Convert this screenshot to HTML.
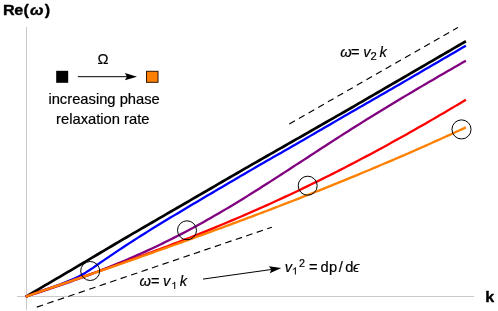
<!DOCTYPE html>
<html><head><meta charset="utf-8"><title>Dispersion</title>
<style>
html,body{margin:0;padding:0;background:#fff;}
svg{display:block;will-change:transform;font-family:"Liberation Sans",sans-serif;}
text{fill:#000;stroke:#000;stroke-width:0.2px;stroke-linejoin:round;}
text.b{stroke-width:0.38px;}
</style></head>
<body>
<svg width="498" height="311" viewBox="0 0 498 311">
<rect width="498" height="311" fill="#ffffff"/>
<!-- axes -->
<line x1="26.5" y1="27" x2="26.5" y2="310.2" stroke="#c9c9c9" stroke-width="1"/>
<line x1="17.1" y1="296.5" x2="474.2" y2="296.5" stroke="#c9c9c9" stroke-width="1"/>
<!-- dashed guides -->
<line x1="36.8" y1="307.1" x2="271.9" y2="227.2" stroke="#000" stroke-width="1.15" stroke-dasharray="6.6 4.46"/>
<line x1="289.3" y1="123.9" x2="457.8" y2="27.6" stroke="#000" stroke-width="1.15" stroke-dasharray="6.5 4.6"/>
<!-- curves -->
<path d="M25.70,296.77 L26.50,296.30 L30.19,294.13 L33.88,291.97 L37.58,289.80 L41.27,287.63 L44.96,285.46 L48.65,283.30 L52.35,281.13 L56.04,278.96 L59.73,276.80 L63.42,274.63 L67.12,272.46 L70.81,270.29 L74.50,268.10 L78.19,265.91 L81.89,263.72 L85.58,261.54 L89.27,259.35 L92.96,257.16 L96.66,254.97 L100.35,252.78 L104.04,250.59 L107.73,248.40 L111.43,246.22 L115.12,244.03 L118.81,241.84 L122.50,239.65 L126.20,237.48 L129.89,235.33 L133.58,233.19 L137.27,231.05 L140.97,228.91 L144.66,226.77 L148.35,224.63 L152.04,222.49 L155.74,220.34 L159.43,218.20 L163.12,216.06 L166.81,213.92 L170.51,211.78 L174.20,209.64 L177.89,207.49 L181.58,205.35 L185.27,203.21 L188.97,201.07 L192.66,198.93 L196.35,196.79 L200.04,194.64 L203.74,192.50 L207.43,190.36 L211.12,188.22 L214.81,186.08 L218.51,183.94 L222.20,181.79 L225.89,179.65 L229.58,177.51 L233.28,175.37 L236.97,173.23 L240.66,171.09 L244.35,168.94 L248.05,166.80 L251.74,164.68 L255.43,162.57 L259.12,160.47 L262.82,158.36 L266.51,156.26 L270.20,154.16 L273.89,152.05 L277.59,149.95 L281.28,147.84 L284.97,145.74 L288.66,143.63 L292.36,141.53 L296.05,139.42 L299.74,137.32 L303.43,135.21 L307.13,133.09 L310.82,130.98 L314.51,128.87 L318.20,126.76 L321.89,124.65 L325.59,122.53 L329.28,120.42 L332.97,118.31 L336.66,116.20 L340.36,114.09 L344.05,111.97 L347.74,109.86 L351.43,107.74 L355.13,105.59 L358.82,103.45 L362.51,101.30 L366.20,99.16 L369.90,97.01 L373.59,94.87 L377.28,92.72 L380.97,90.58 L384.67,88.43 L388.36,86.29 L392.05,84.14 L395.74,82.00 L399.44,79.85 L403.13,77.71 L406.82,75.56 L410.51,73.42 L414.21,71.28 L417.90,69.13 L421.59,66.99 L425.28,64.84 L428.98,62.70 L432.67,60.55 L436.36,58.41 L440.05,56.26 L443.75,54.12 L447.44,51.97 L451.13,49.83 L454.82,47.68 L458.52,45.54 L462.21,43.39 L465.90,41.25" fill="none" stroke="#000000" stroke-width="2.7" stroke-linecap="butt" stroke-linejoin="round"/>
<path d="M25.70,296.58 L26.50,296.30 L30.19,295.03 L33.88,293.76 L37.58,292.48 L41.27,291.20 L44.96,289.90 L48.65,288.59 L52.35,287.26 L56.04,285.91 L59.73,284.53 L63.42,283.11 L67.12,281.63 L70.81,280.09 L74.50,278.47 L78.19,276.73 L81.89,274.80 L85.58,272.65 L89.27,270.33 L92.96,267.86 L96.66,265.28 L100.35,262.64 L104.04,260.13 L107.73,257.62 L111.43,255.11 L115.12,252.62 L118.81,250.15 L122.50,247.70 L126.20,245.28 L129.89,242.88 L133.58,240.49 L137.27,238.13 L140.97,235.78 L144.66,233.45 L148.35,231.13 L152.04,228.84 L155.74,226.57 L159.43,224.31 L163.12,222.06 L166.81,219.82 L170.51,217.59 L174.20,215.37 L177.89,213.15 L181.58,210.94 L185.27,208.73 L188.97,206.53 L192.66,204.34 L196.35,202.15 L200.04,199.96 L203.74,197.78 L207.43,195.59 L211.12,193.41 L214.81,191.23 L218.51,189.06 L222.20,186.89 L225.89,184.72 L229.58,182.55 L233.28,180.39 L236.97,178.23 L240.66,176.07 L244.35,173.91 L248.05,171.76 L251.74,169.62 L255.43,167.49 L259.12,165.36 L262.82,163.24 L266.51,161.12 L270.20,158.99 L273.89,156.87 L277.59,154.75 L281.28,152.64 L284.97,150.52 L288.66,148.40 L292.36,146.29 L296.05,144.18 L299.74,142.07 L303.43,139.92 L307.13,137.77 L310.82,135.63 L314.51,133.48 L318.20,131.34 L321.89,129.19 L325.59,127.05 L329.28,124.91 L332.97,122.77 L336.66,120.63 L340.36,118.49 L344.05,116.35 L347.74,114.21 L351.43,112.08 L355.13,109.95 L358.82,107.82 L362.51,105.69 L366.20,103.56 L369.90,101.43 L373.59,99.30 L377.28,97.18 L380.97,95.05 L384.67,92.92 L388.36,90.80 L392.05,88.67 L395.74,86.55 L399.44,84.43 L403.13,82.28 L406.82,80.12 L410.51,77.97 L414.21,75.81 L417.90,73.66 L421.59,71.50 L425.28,69.35 L428.98,67.20 L432.67,65.05 L436.36,62.89 L440.05,60.74 L443.75,58.59 L447.44,56.44 L451.13,54.29 L454.82,52.14 L458.52,49.99 L462.21,47.84 L465.90,45.69" fill="none" stroke="#0000ff" stroke-width="2.3" stroke-linecap="butt" stroke-linejoin="round"/>
<path d="M25.70,296.55 L26.50,296.30 L30.19,295.15 L33.88,293.99 L37.58,292.81 L41.27,291.63 L44.96,290.43 L48.65,289.21 L52.35,287.98 L56.04,286.74 L59.73,285.48 L63.42,284.21 L67.12,282.92 L70.81,281.61 L74.50,280.29 L78.19,278.96 L81.89,277.60 L85.58,276.24 L89.27,274.85 L92.96,273.45 L96.66,272.03 L100.35,270.59 L104.04,269.13 L107.73,267.65 L111.43,266.16 L115.12,264.65 L118.81,263.12 L122.50,261.56 L126.20,259.99 L129.89,258.40 L133.58,256.79 L137.27,255.16 L140.97,253.51 L144.66,251.83 L148.35,250.13 L152.04,248.42 L155.74,246.68 L159.43,244.92 L163.12,243.13 L166.81,241.32 L170.51,239.49 L174.20,237.64 L177.89,235.76 L181.58,233.86 L185.27,231.93 L188.97,229.98 L192.66,228.00 L196.35,226.00 L200.04,223.98 L203.74,221.93 L207.43,219.85 L211.12,217.75 L214.81,215.62 L218.51,213.48 L222.20,211.31 L225.89,209.12 L229.58,206.92 L233.28,204.69 L236.97,202.45 L240.66,200.19 L244.35,197.91 L248.05,195.62 L251.74,193.32 L255.43,191.00 L259.12,188.67 L262.82,186.33 L266.51,183.98 L270.20,181.62 L273.89,179.25 L277.59,176.87 L281.28,174.49 L284.97,172.10 L288.66,169.70 L292.36,167.30 L296.05,164.90 L299.74,162.50 L303.43,160.09 L307.13,157.68 L310.82,155.28 L314.51,152.87 L318.20,150.47 L321.89,148.07 L325.59,145.68 L329.28,143.28 L332.97,140.90 L336.66,138.52 L340.36,136.15 L344.05,133.79 L347.74,131.44 L351.43,129.09 L355.13,126.76 L358.82,124.44 L362.51,122.13 L366.20,119.83 L369.90,117.54 L373.59,115.26 L377.28,112.99 L380.97,110.72 L384.67,108.47 L388.36,106.22 L392.05,103.99 L395.74,101.76 L399.44,99.54 L403.13,97.33 L406.82,95.12 L410.51,92.93 L414.21,90.74 L417.90,88.55 L421.59,86.38 L425.28,84.21 L428.98,82.05 L432.67,79.89 L436.36,77.74 L440.05,75.59 L443.75,73.45 L447.44,71.32 L451.13,69.19 L454.82,67.06 L458.52,64.94 L462.21,62.83 L465.90,60.72" fill="none" stroke="#800080" stroke-width="2.3" stroke-linecap="butt" stroke-linejoin="round"/>
<path d="M25.70,296.58 L26.50,296.30 L30.19,295.02 L33.88,293.73 L37.58,292.45 L41.27,291.18 L44.96,289.90 L48.65,288.63 L52.35,287.35 L56.04,286.08 L59.73,284.80 L63.42,283.53 L67.12,282.25 L70.81,280.97 L74.50,279.70 L78.19,278.42 L81.89,277.14 L85.58,275.85 L89.27,274.57 L92.96,273.28 L96.66,271.99 L100.35,270.69 L104.04,269.39 L107.73,268.09 L111.43,266.78 L115.12,265.47 L118.81,264.15 L122.50,262.83 L126.20,261.51 L129.89,260.18 L133.58,258.84 L137.27,257.50 L140.97,256.15 L144.66,254.79 L148.35,253.43 L152.04,252.06 L155.74,250.68 L159.43,249.30 L163.12,247.91 L166.81,246.51 L170.51,245.11 L174.20,243.69 L177.89,242.27 L181.58,240.84 L185.27,239.40 L188.97,237.96 L192.66,236.50 L196.35,235.04 L200.04,233.56 L203.74,232.08 L207.43,230.59 L211.12,229.09 L214.81,227.57 L218.51,226.05 L222.20,224.52 L225.89,222.98 L229.58,221.43 L233.28,219.87 L236.97,218.30 L240.66,216.72 L244.35,215.12 L248.05,213.52 L251.74,211.91 L255.43,210.28 L259.12,208.65 L262.82,207.00 L266.51,205.34 L270.20,203.68 L273.89,202.00 L277.59,200.31 L281.28,198.61 L284.97,196.89 L288.66,195.17 L292.36,193.43 L296.05,191.69 L299.74,189.93 L303.43,188.16 L307.13,186.38 L310.82,184.59 L314.51,182.79 L318.20,180.97 L321.89,179.15 L325.59,177.31 L329.28,175.46 L332.97,173.60 L336.66,171.73 L340.36,169.85 L344.05,167.96 L347.74,166.06 L351.43,164.14 L355.13,162.21 L358.82,160.28 L362.51,158.33 L366.20,156.37 L369.90,154.40 L373.59,152.42 L377.28,150.43 L380.97,148.43 L384.67,146.42 L388.36,144.40 L392.05,142.36 L395.74,140.32 L399.44,138.27 L403.13,136.21 L406.82,134.14 L410.51,132.06 L414.21,129.96 L417.90,127.86 L421.59,125.75 L425.28,123.64 L428.98,121.51 L432.67,119.37 L436.36,117.23 L440.05,115.07 L443.75,112.91 L447.44,110.74 L451.13,108.56 L454.82,106.38 L458.52,104.19 L462.21,101.98 L465.90,99.78" fill="none" stroke="#ff0000" stroke-width="2.3" stroke-linecap="butt" stroke-linejoin="round"/>
<path d="M25.70,296.57 L26.50,296.30 L30.19,295.04 L33.88,293.78 L37.58,292.51 L41.27,291.25 L44.96,289.99 L48.65,288.73 L52.35,287.46 L56.04,286.20 L59.73,284.93 L63.42,283.66 L67.12,282.39 L70.81,281.13 L74.50,279.86 L78.19,278.59 L81.89,277.31 L85.58,276.04 L89.27,274.77 L92.96,273.49 L96.66,272.21 L100.35,270.93 L104.04,269.65 L107.73,268.37 L111.43,267.09 L115.12,265.81 L118.81,264.52 L122.50,263.23 L126.20,261.94 L129.89,260.65 L133.58,259.35 L137.27,258.06 L140.97,256.76 L144.66,255.46 L148.35,254.16 L152.04,252.85 L155.74,251.54 L159.43,250.23 L163.12,248.92 L166.81,247.61 L170.51,246.29 L174.20,244.97 L177.89,243.65 L181.58,242.32 L185.27,241.00 L188.97,239.67 L192.66,238.33 L196.35,236.99 L200.04,235.65 L203.74,234.31 L207.43,232.97 L211.12,231.62 L214.81,230.26 L218.51,228.91 L222.20,227.55 L225.89,226.19 L229.58,224.82 L233.28,223.45 L236.97,222.08 L240.66,220.70 L244.35,219.32 L248.05,217.94 L251.74,216.55 L255.43,215.16 L259.12,213.76 L262.82,212.36 L266.51,210.95 L270.20,209.55 L273.89,208.13 L277.59,206.72 L281.28,205.29 L284.97,203.87 L288.66,202.44 L292.36,201.00 L296.05,199.56 L299.74,198.12 L303.43,196.67 L307.13,195.22 L310.82,193.76 L314.51,192.30 L318.20,190.83 L321.89,189.36 L325.59,187.88 L329.28,186.40 L332.97,184.91 L336.66,183.41 L340.36,181.91 L344.05,180.41 L347.74,178.90 L351.43,177.39 L355.13,175.87 L358.82,174.34 L362.51,172.81 L366.20,171.27 L369.90,169.73 L373.59,168.18 L377.28,166.62 L380.97,165.06 L384.67,163.50 L388.36,161.92 L392.05,160.34 L395.74,158.76 L399.44,157.17 L403.13,155.57 L406.82,153.97 L410.51,152.36 L414.21,150.74 L417.90,149.12 L421.59,147.49 L425.28,145.85 L428.98,144.21 L432.67,142.56 L436.36,140.90 L440.05,139.24 L443.75,137.56 L447.44,135.89 L451.13,134.20 L454.82,132.51 L458.52,130.81 L462.21,129.11 L465.90,127.39" fill="none" stroke="#ff8000" stroke-width="2.3" stroke-linecap="butt" stroke-linejoin="round"/>
<!-- circles -->
<g fill="none" stroke="#000" stroke-width="1">
<circle cx="90.2" cy="271" r="9.5"/>
<circle cx="187" cy="230.3" r="9.5"/>
<circle cx="307.7" cy="185.7" r="9.5"/>
<circle cx="461.5" cy="129.4" r="9.55"/>
</g>
<!-- legend -->
<rect x="56.2" y="70.8" width="12" height="12" fill="#000"/>
<rect x="146.5" y="71.3" width="11.5" height="11" fill="#ff8000" stroke="#2b1500" stroke-width="1"/>
<line x1="77.9" y1="76.7" x2="128" y2="76.7" stroke="#000" stroke-width="1"/>
<path transform="translate(137,76.7)" d="M0,0 L-12.1,-3.6 L-10.1,0 L-12.1,3.6 Z" fill="#000"/>
<text transform="matrix(1 0 0 0.94 0 3.840)" x="97.6" y="64" font-size="14.75">Ω</text>
<text transform="matrix(1 0 0 0.94 0 6.240)" x="48.4" y="104" font-size="14.75">increasing phase</text>
<text transform="matrix(1 0 0 0.94 0 7.470)" x="56.1" y="124.5" font-size="14.75">relaxation rate</text>
<!-- arrow to v1^2 -->
<line x1="203" y1="279.1" x2="271.4" y2="269.5" stroke="#000" stroke-width="1"/>
<path transform="translate(281.3,268.1) rotate(-8)" d="M0,0 L-12.1,-3.6 L-10.1,0 L-12.1,3.6 Z" fill="#000"/>
<!-- labels -->
<g font-size="14.67">
<text transform="matrix(1 0 0 0.94 0 3.432)" x="340.2" y="57.2" font-style="italic">ω</text>
<text transform="matrix(1 0 0 0.94 0 3.432)" x="350.9" y="57.2">=</text>
<text transform="matrix(1 0 0 0.94 0 3.432)" x="363.3" y="57.2" font-style="italic">v</text>
<text transform="matrix(1 0 0 0.94 0 3.594)" x="370.6" y="59.9" font-size="11.3">2</text>
<text transform="matrix(1 0 0 0.94 0 3.432)" x="379.45" y="57.2" font-style="italic">k</text>

<text transform="matrix(1 0 0 0.94 0 17.160)" x="139.5" y="286" font-style="italic">ω</text>
<text transform="matrix(1 0 0 0.94 0 17.160)" x="150.9" y="286">=</text>
<text transform="matrix(1 0 0 0.94 0 17.160)" x="162.9" y="286" font-style="italic">v</text>
<path transform="translate(170.95,288.9) scale(0.0056,-0.0049)" d="M763 0H583V1147Q518 1085 412.5 1023T223 930V1104Q374 1175 487 1276T647 1472H763Z" fill="#000"/>
<text transform="matrix(1 0 0 0.94 0 17.160)" x="179.75" y="286" font-style="italic">k</text>

<text transform="matrix(1 0 0 0.94 0 16.302)" x="284.7" y="271.7" font-style="italic">v</text>
<path transform="translate(291.6,274.5) scale(0.0056,-0.0049)" d="M763 0H583V1147Q518 1085 412.5 1023T223 930V1104Q374 1175 487 1276T647 1472H763Z" fill="#000"/>
<text transform="matrix(1 0 0 0.94 0 16.020)" x="299" y="267" font-size="10.8">2</text>
<text transform="matrix(1 0 0 0.94 0 16.302)" x="308.9" y="271.7">=</text>
<text transform="matrix(1 0 0 0.94 0 16.302)" x="320.6" y="271.7">d</text>
<text transform="matrix(1 0 0 0.94 0 16.302)" x="328.9" y="271.7">p</text>
<text transform="matrix(1 0 0 0.94 0 16.302)" x="338.8" y="271.7">/</text>
<text transform="matrix(1 0 0 0.94 0 16.302)" x="345.3" y="271.7">d</text>
<text transform="matrix(1 0 0 0.94 0 16.302)" x="352.9" y="271.7" font-style="italic">ϵ</text>
</g>
<text transform="matrix(1 0 0 0.915 0 1.309)" class="b" x="2.9 14.2 23.5" y="15.4" font-size="16.2" font-weight="bold">Re(</text>
<text transform="matrix(1 0 0 0.915 0 1.309)" class="b" x="30.1" y="15.4" font-size="16.2" font-weight="bold" font-style="italic">ω</text>
<text transform="matrix(1 0 0 0.915 0 1.309)" class="b" x="44.8" y="15.4" font-size="16.2" font-weight="bold">)</text>
<text transform="matrix(1 0 0 0.915 0 25.644)" class="b" x="485.3" y="301.7" font-size="16.2" font-weight="bold">k</text>
</svg>
</body></html>
